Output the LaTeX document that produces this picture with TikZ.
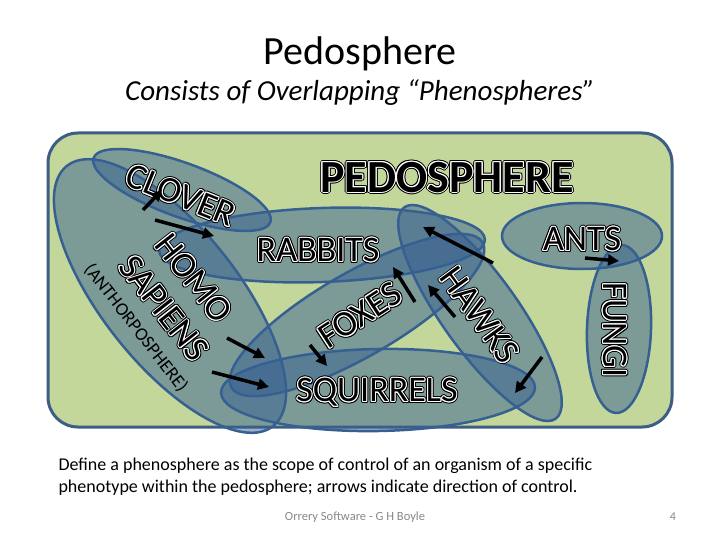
\documentclass[tikz,border=0pt]{standalone}
\usepackage{fontspec}
\setmainfont{Carlito}
\usetikzlibrary{calc,arrows.meta}
\definecolor{bggreen}{RGB}{196,215,155}
\definecolor{ellblue}{RGB}{55,96,146}
\definecolor{frameblue}{RGB}{62,93,130}
\definecolor{footgray}{RGB}{137,137,137}
\newcommand{\labfont}{\fontsize{36}{36}\selectfont}
\newcommand{\bigfont}{\fontsize{46}{46}\selectfont\bfseries}
\newcommand{\olab}[5]{%
 \foreach \a in {0,22.5,...,337.5}{\node[lab,rotate=#3,font=#4,text=black] at ($(#2)+(\a:2pt)$) {#5};}%
 \foreach \a in {0,30,...,330}{\node[lab,rotate=#3,font=#4,text=white] at ($(#2)+(\a:1pt)$) {#5};}%
 \node[lab,rotate=#3,font=#4,text=black] (#1) at (#2) {#5};%
}
\tikzset{
 lab/.style={inner sep=0pt, text depth=0pt},
 ellfill/.style={fill=ellblue, fill opacity=0.5},
 elldraw/.style={draw=ellblue, line width=2.5pt},
 ctrl/.style={line width=3.5pt, -{Triangle[length=11pt,width=11pt]}},
}
\begin{document}
\begin{tikzpicture}[x=1pt,y=-1pt]
\useasboundingbox (0,0) rectangle (720,540);
\fill[white] (0,0) rectangle (720,540);
% titles
\node[anchor=base,font=\fontsize{40}{40}\selectfont] (title) at (360,65) {Pedosphere};
\node[anchor=base,font=\fontsize{29}{29}\selectfont\itshape] (subtitle) at (360,101) {Consists of Overlapping “Phenospheres”};
% frame
\draw[fill=bggreen, draw=frameblue, line width=3pt, rounded corners=30pt] (48,133) rectangle (672,427);
% ellipse centres
\coordinate (clover) at (182,190);
\coordinate (homo) at (170,296);
\coordinate (rabbits) at (322,245);
\coordinate (foxes) at (357,315);
\coordinate (hawks) at (480,313);
\coordinate (squirrels) at (378,390);
\coordinate (ants) at (582,236);
\coordinate (fungi) at (619,329);
% fills
\foreach \c/\ra/\rb/\ang in {clover/94/27/-20, homo/166/68/-51.6, rabbits/163/37/2, foxes/145/42/30, hawks/130/38/-54.4, squirrels/157/41/1, ants/80/33/0, fungi/32/84/-2}{
  \fill[ellfill, shift={(\c)}, rotate=\ang] (0,0) ellipse[x radius=\ra, y radius=\rb];
}
% borders
\foreach \c/\ra/\rb/\ang in {clover/94/27/-20, homo/166/68/-51.6, rabbits/163/37/2, foxes/145/42/30, hawks/130/38/-54.4, squirrels/157/41/1, ants/80/33/0, fungi/32/84/-2}{
  \draw[elldraw, shift={(\c)}, rotate=\ang] (0,0) ellipse[x radius=\ra, y radius=\rb];
}
% labels
\olab{lpedo}{447,177}{0}{\bigfont}{PEDOSPHERE}
\olab{lrabbits}{318,250}{0}{\labfont}{RABBITS}
\olab{lants}{582,239}{0}{\labfont}{ANTS}
\olab{lfungi}{615,330}{-90}{\labfont}{FUNGI}
\olab{lsquirrels}{377,390}{0}{\labfont}{SQUIRRELS}
\olab{lfoxes}{360,315}{33}{\labfont}{FOXES}
\olab{lhawks}{480,315}{-54}{\labfont}{HAWKS}
\olab{lclover}{181,195}{-22}{\labfont}{CLOVER}
\olab{lhomo}{194,278}{-52}{\labfont}{HOMO}
\olab{lsapiens}{164,308}{-52}{\labfont}{SAPIENS}
\node[lab,rotate=-52,font=\fontsize{18.5}{18.5}\selectfont] (lanthro) at (137,327) {(ANTHORPOSPHERE)};
% arrows
\coordinate (a1s) at (143,210); \coordinate (a1e) at (162,190);
\coordinate (a2s) at (155,220); \coordinate (a2e) at (214,236);
\coordinate (a3s) at (227,338); \coordinate (a3e) at (265,358);
\coordinate (a4s) at (212,372); \coordinate (a4e) at (269,387);
\coordinate (a5s) at (310,345); \coordinate (a5e) at (327,366);
\coordinate (a6s) at (493,263); \coordinate (a6e) at (423,227);
\coordinate (a7s) at (415,302); \coordinate (a7e) at (393,267);
\coordinate (a8s) at (455,317); \coordinate (a8e) at (428,285);
\coordinate (a9s) at (542,357); \coordinate (a9e) at (515,393);
\coordinate (a10s) at (585,258); \coordinate (a10e) at (619,261);
\foreach \i in {1,...,10}{\draw[ctrl] (a\i s) -- (a\i e);}
% caption
\node[anchor=base west,font=\fontsize{18}{18}\selectfont] (cap1) at (55,470) {Define a phenosphere as the scope of control of an organism of a specific};
\node[anchor=base west,font=\fontsize{18}{18}\selectfont] (cap2) at (55,492) {phenotype within the pedosphere; arrows indicate direction of control.};
\node[anchor=base,font=\fontsize{12.5}{12.5}\selectfont,text=footgray] (foot) at (355,520) {Orrery Software - G H Boyle};
\node[anchor=base,font=\fontsize{12}{12}\selectfont,text=footgray] (page) at (673,520) {4};
\end{tikzpicture}
\end{document}
